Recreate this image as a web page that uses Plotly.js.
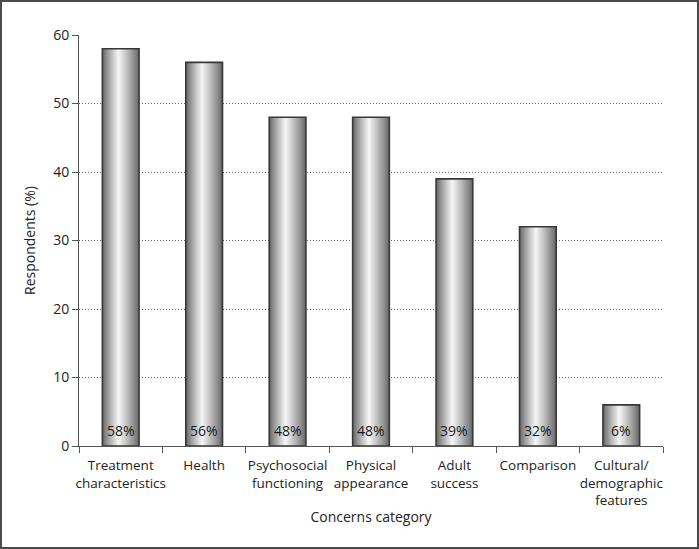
<!DOCTYPE html>
<html>
<head>
<meta charset="utf-8">
<script src="https://cdn.plot.ly/plotly-3.0.1.min.js"></script>
<style>
  html, body { margin: 0; padding: 0; background: #fff; }
  #wrap { position: relative; width: 699px; height: 549px; }
  #chart { position: absolute; left: 0; top: 0; width: 699px; height: 549px; }
  #frame { position: absolute; left: 0; top: 0; width: 699px; height: 549px; box-sizing: border-box; border: 2px solid #4a4a4a; pointer-events: none; }
</style>
</head>
<body>
<div id="wrap"><div id="chart"></div><div id="frame"></div></div>
<script>
// ---- data ----
const categories = [
  'Treatment<br>characteristics',
  'Health',
  'Psychosocial<br>functioning',
  'Physical<br>appearance',
  'Adult<br>success',
  'Comparison',
  'Cultural/<br>demographic<br>features'
];
const values = [58, 56, 48, 48, 39, 32, 6];
const valueLabels = ['58%', '56%', '48%', '48%', '39%', '32%', '6%'];
const yTicks = [0, 10, 20, 30, 40, 50, 60];

// ---- cylindrical shading via overlaid bars ----
const BAR_W = 0.44;
const N = 18;
const PEAK = 0.44;
const traces = [];
for (let k = 0; k < N; k++) {
  const f = k / N;
  const left = PEAK * f;
  const right = 1 - (1 - PEAK) * f;
  const level = Math.round(104 + (250 - 104) * Math.pow(f, 0.9));
  traces.push({
    type: 'bar',
    x: categories,
    y: values,
    width: BAR_W * (right - left),
    offset: -BAR_W / 2 + left * BAR_W,
    marker: { color: `rgb(${level},${level},${level})`, line: { width: 0 } },
    hoverinfo: 'skip',
    showlegend: false
  });
}
// outline on top
traces.push({
  type: 'bar',
  x: categories,
  y: values,
  width: BAR_W,
  offset: -BAR_W / 2,
  marker: { color: 'rgba(0,0,0,0)', line: { color: '#383838', width: 1.6 } },
  hoverinfo: 'skip',
  showlegend: false
});

// value labels at the foot of each bar
const annotations = categories.map((c, i) => ({
  x: c,
  y: 0,
  xref: 'x',
  yref: 'y',
  text: valueLabels[i],
  showarrow: false,
  yanchor: 'bottom',
  yshift: 4,
  font: { family: 'Open Sans, sans-serif', size: 14, color: '#1a1a1a' }
}));

const layout = {
  width: 699,
  height: 549,
  margin: { l: 79, r: 36, t: 35, b: 103 },
  paper_bgcolor: '#fff',
  plot_bgcolor: '#fff',
  barmode: 'overlay',
  font: { family: 'Open Sans, sans-serif', size: 14, color: '#222' },
  annotations: annotations,
  xaxis: {
    type: 'category',
    tickson: 'boundaries',
    tickangle: 0,
    ticks: 'outside',
    ticklen: 6,
    tickcolor: '#555',
    ticklabelstandoff: 7,
    showline: true,
    linecolor: '#555',
    linewidth: 1,
    showgrid: false,
    tickfont: { size: 13.5 },
    title: { text: 'Concerns category', font: { size: 14 }, standoff: 3 }
  },
  yaxis: {
    range: [0, 60],
    tickvals: yTicks,
    ticks: 'outside',
    ticklen: 6,
    tickcolor: '#555',
    showline: true,
    linecolor: '#555',
    linewidth: 1,
    showgrid: true,
    gridcolor: '#666',
    griddash: '1px,2px',
    gridwidth: 1,
    zeroline: false,
    tickfont: { size: 14 },
    title: { text: 'Respondents (%)', font: { size: 14 }, standoff: 14 }
  }
};

Plotly.newPlot('chart', [...traces], layout, { displayModeBar: false, staticPlot: true });
</script>
</body>
</html>
